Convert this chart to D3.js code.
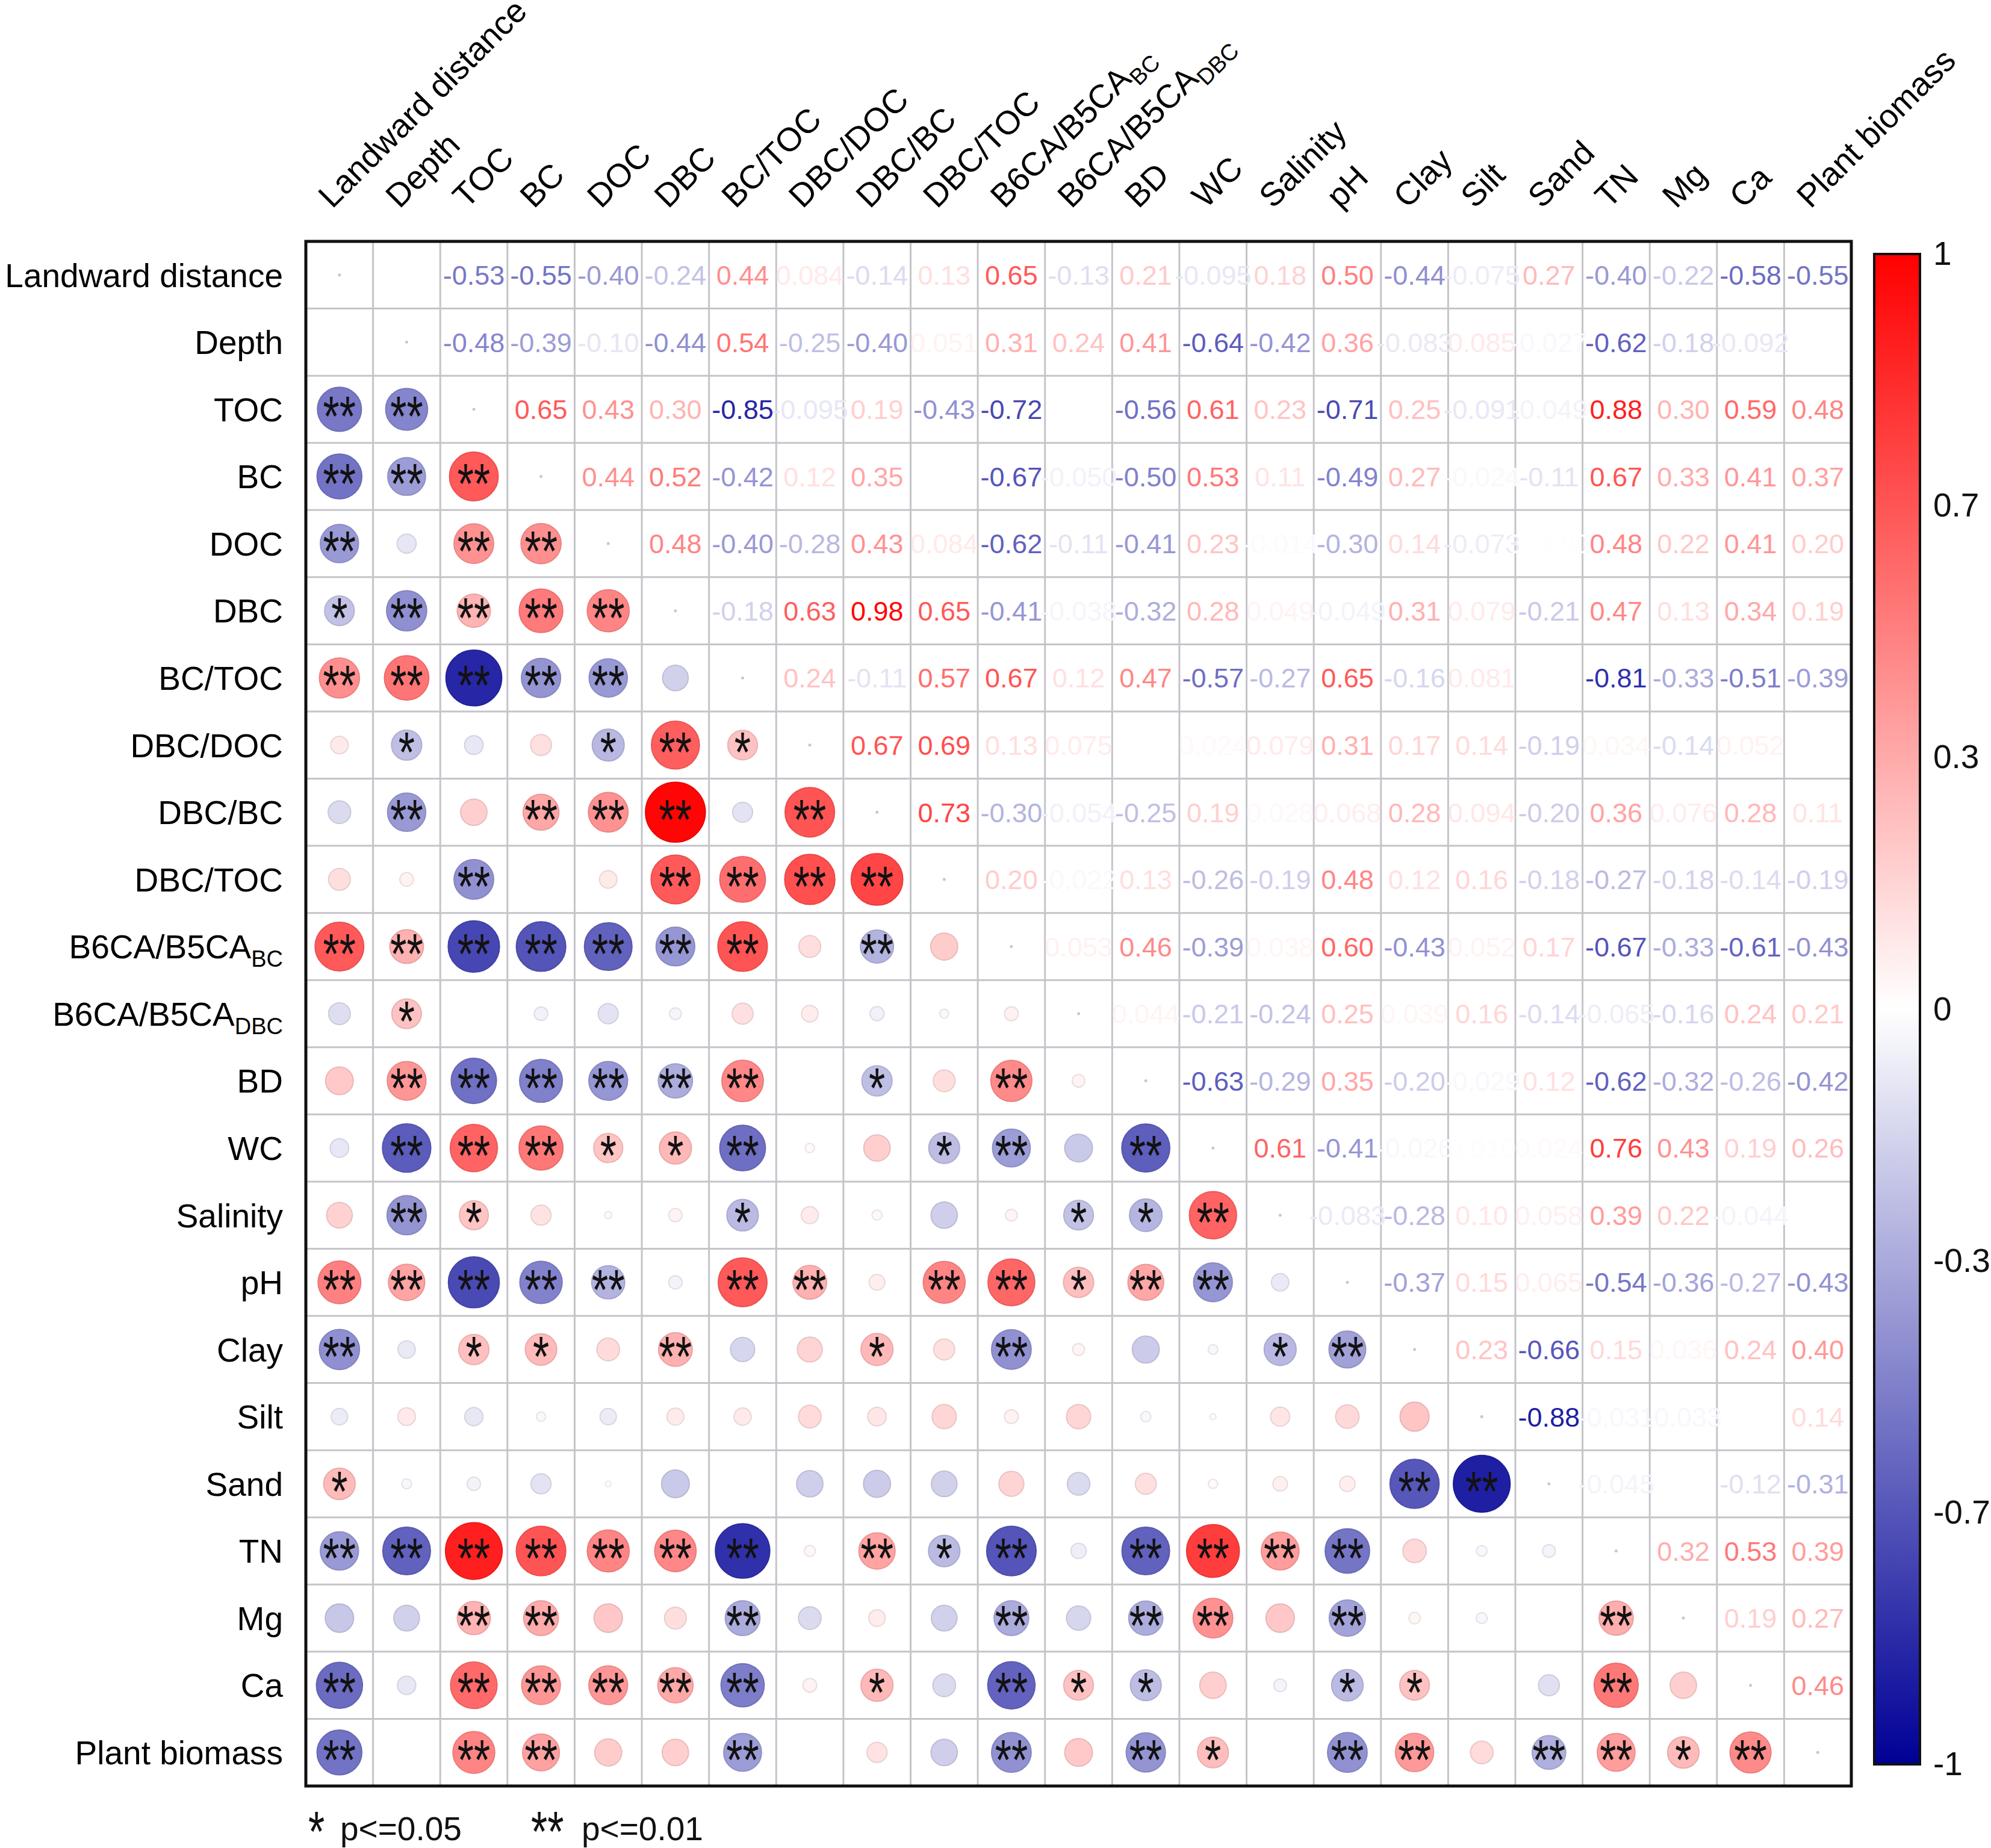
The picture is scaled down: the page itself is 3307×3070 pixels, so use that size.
<!DOCTYPE html>
<html>
<head>
<meta charset="utf-8">
<script src="https://cdnjs.cloudflare.com/ajax/libs/d3/7.8.5/d3.min.js"></script>
<style>
    body { margin: 0; background: #ffffff; }
    text { font-family: "Liberation Sans", Arial, sans-serif; }
</style>
</head>
<body>
<div id="corr-chart"></div>
<script>

// variables, same order for rows and columns
var varNames = ["Landward distance", "Depth", "TOC", "BC", "DOC", "DBC", "BC/TOC", "DBC/DOC",
    "DBC/BC", "DBC/TOC", "B6CA/B5CA", "B6CA/B5CA", "BD", "WC", "Salinity", "pH", "Clay", "Silt",
    "Sand", "TN", "Mg", "Ca", "Plant biomass"];
var varSubs = ["", "", "", "", "", "", "", "", "", "", "BC", "DBC", "", "", "", "", "", "", "", "", "", "", ""];

// upper triangle, row i holds the columns i+1 .. 22
var corrUpper = [
    [0, -0.53, -0.55, -0.40, -0.24, 0.44, 0.084, -0.14, 0.13, 0.65, -0.13, 0.21, -0.095, 0.18, 0.50, -0.44, -0.075, 0.27, -0.40, -0.22, -0.58, -0.55],
    [-0.48, -0.39, -0.10, -0.44, 0.54, -0.25, -0.40, 0.051, 0.31, 0.24, 0.41, -0.64, -0.42, 0.36, -0.083, 0.085, -0.027, -0.62, -0.18, -0.092, 0],
    [0.65, 0.43, 0.30, -0.85, -0.095, 0.19, -0.43, -0.72, 0, -0.56, 0.61, 0.23, -0.71, 0.25, -0.091, -0.049, 0.88, 0.30, 0.59, 0.48],
    [0.44, 0.52, -0.42, 0.12, 0.35, 0, -0.67, -0.050, -0.50, 0.53, 0.11, -0.49, 0.27, -0.024, -0.11, 0.67, 0.33, 0.41, 0.37],
    [0.48, -0.40, -0.28, 0.43, 0.084, -0.62, -0.11, -0.41, 0.23, -0.014, -0.30, 0.14, -0.073, 0.009, 0.48, 0.22, 0.41, 0.20],
    [-0.18, 0.63, 0.98, 0.65, -0.41, -0.038, -0.32, 0.28, 0.049, -0.049, 0.31, 0.079, -0.21, 0.47, 0.13, 0.34, 0.19],
    [0.24, -0.11, 0.57, 0.67, 0.12, 0.47, -0.57, -0.27, 0.65, -0.16, 0.081, 0, -0.81, -0.33, -0.51, -0.39],
    [0.67, 0.69, 0.13, 0.075, 0, 0.024, 0.079, 0.31, 0.17, 0.14, -0.19, 0.034, -0.14, 0.052, 0],
    [0.73, -0.30, -0.054, -0.25, 0.19, 0.028, 0.068, 0.28, 0.094, -0.20, 0.36, 0.076, 0.28, 0.11],
    [0.20, -0.022, 0.13, -0.26, -0.19, 0.48, 0.12, 0.16, -0.18, -0.27, -0.18, -0.14, -0.19],
    [0.053, 0.46, -0.39, 0.038, 0.60, -0.43, 0.052, 0.17, -0.67, -0.33, -0.61, -0.43],
    [0.044, -0.21, -0.24, 0.25, 0.039, 0.16, -0.14, -0.065, -0.16, 0.24, 0.21],
    [-0.63, -0.29, 0.35, -0.20, -0.029, 0.12, -0.62, -0.32, -0.26, -0.42],
    [0.61, -0.41, -0.026, 0.010, 0.024, 0.76, 0.43, 0.19, 0.26],
    [-0.083, -0.28, 0.10, 0.058, 0.39, 0.22, -0.044, 0],
    [-0.37, 0.15, 0.065, -0.54, -0.36, -0.27, -0.43],
    [0.23, -0.66, 0.15, 0.036, 0.24, 0.40],
    [-0.88, -0.031, -0.033, 0, 0.14],
    [-0.045, 0, -0.12, -0.31],
    [0.32, 0.53, 0.39],
    [0.19, 0.27],
    [0.46]
];

// lower triangle significance, row i (from 1) holds columns 0 .. i-1
// 0 = none, 1 = p<=0.05, 2 = p<=0.01
var sigLower = [
    "0",
    "22",
    "222",
    "2022",
    "12222",
    "222220",
    "0100121",
    "02022202",
    "002002222",
    "2222222020",
    "01000000000",
    "022222201020",
    "0222112001202",
    "02100010000112",
    "222220220221220",
    "2011020010200012",
    "00000000000000000",
    "100000000000000022",
    "2222222021202222000",
    "00220020002022020002",
    "202222201021100110020",
    "2022002000202102202212"
];

var colorTicks = [1, 2/3, 1/3, 0, -1/3, -2/3, -1];
var colorTickLabels = ["1", "0.7", "0.3", "0", "-0.3", "-0.7", "-1"];
var legendStars = ["*", "**"];
var legendLabels = ["p<=0.05", "p<=0.01"];


/*
 * CorrVis - Object constructor function
 */
CorrVis = function(_parentElement){
    this.parentElement = _parentElement;
    this.initVis();
}

CorrVis.prototype.initVis = function(){
    var vis = this;

    vis.width = 3307;
    vis.height = 3070;
    vis.left = 508;
    vis.right = 3075;
    vis.top = 401;
    vis.bottom = 2967;

    vis.svg = d3.select("#" + vis.parentElement).append("svg")
        .attr("width", vis.width)
        .attr("height", vis.height);

    vis.n = varNames.length;

    // Scales
    vis.x = d3.scaleBand()
        .domain(d3.range(vis.n))
        .range([vis.left, vis.right]);

    vis.y = d3.scaleBand()
        .domain(d3.range(vis.n))
        .range([vis.top, vis.bottom]);

    vis.color = d3.scaleLinear()
        .domain([-1, 0, 1])
        .range(["#000096", "#ffffff", "#ff0000"]);

    vis.wrangleData();
}

CorrVis.prototype.wrangleData = function(){
    var vis = this;

    vis.cells = [];
    for (var i = 0; i < vis.n; i++) {
        for (var j = 0; j < vis.n; j++) {
            var r = null, sig = 0;
            if (j > i) r = corrUpper[i][j - i - 1];
            if (j < i) {
                r = corrUpper[j][i - j - 1];
                sig = +sigLower[i - 1][j];
            }
            vis.cells.push({row: i, col: j, r: r, sig: sig});
        }
    }

    vis.updateVis();
}

CorrVis.prototype.updateVis = function(){
    var vis = this;
    var bw = vis.x.bandwidth();

    function fmt(r){
        if (Math.abs(r) >= 0.1) return r.toFixed(2);
        return r.toPrecision(2);
    }

    // grid lines
    var edges = d3.range(1, vis.n);
    vis.svg.selectAll(".vgrid")
        .data(edges)
        .enter().append("line")
        .attr("x1", d => vis.x(d)).attr("x2", d => vis.x(d))
        .attr("y1", vis.top).attr("y2", vis.bottom)
        .attr("stroke", "#c4c4ca").attr("stroke-width", 3);
    vis.svg.selectAll(".hgrid")
        .data(edges)
        .enter().append("line")
        .attr("y1", d => vis.y(d)).attr("y2", d => vis.y(d))
        .attr("x1", vis.left).attr("x2", vis.right)
        .attr("stroke", "#c4c4ca").attr("stroke-width", 3);

    // diagonal dots
    vis.svg.selectAll(".diag")
        .data(vis.cells.filter(d => d.row == d.col))
        .enter().append("circle")
        .attr("cx", d => vis.x(d.col) + bw/2)
        .attr("cy", d => vis.y(d.row) + bw/2)
        .attr("r", 2.5)
        .attr("fill", "#c8c8c8");

    // lower triangle: circles, area ~ |r|
    var lower = vis.cells.filter(d => d.col < d.row && d.r != 0);
    vis.svg.selectAll(".circ")
        .data(lower)
        .enter().append("circle")
        .attr("class", "circ")
        .attr("cx", d => vis.x(d.col) + bw/2)
        .attr("cy", d => vis.y(d.row) + bw/2)
        .attr("r", d => 0.45 * bw * Math.sqrt(Math.abs(d.r)))
        .attr("fill", d => vis.color(d.r))
        .attr("stroke", d => d3.color(vis.color(d.r)).darker(0.25))
        .attr("stroke-width", 2);

    vis.svg.selectAll(".stars")
        .data(lower.filter(d => d.sig > 0))
        .enter().append("text")
        .attr("transform", d => "translate(" + (vis.x(d.col) + bw/2) + "," + (vis.y(d.row) + bw/2) + ") scale(1,1.35)")
        .attr("y", 33)
        .attr("text-anchor", "middle")
        .attr("font-size", 70)
        .attr("fill", "#111")
        .text(d => d.sig == 2 ? "**" : "*");

    // upper triangle: coefficients
    vis.svg.selectAll(".num")
        .data(vis.cells.filter(d => d.col > d.row && d.r != 0))
        .enter().append("text")
        .attr("x", d => vis.x(d.col) + bw/2)
        .attr("y", d => vis.y(d.row) + bw/2)
        .attr("dy", "0.36em")
        .attr("text-anchor", "middle")
        .attr("font-size", 45)
        .attr("fill", d => vis.color(d.r))
        .text(d => fmt(d.r));

    // outer frame
    vis.svg.append("rect")
        .attr("x", vis.left).attr("y", vis.top)
        .attr("width", vis.right - vis.left).attr("height", vis.bottom - vis.top)
        .attr("fill", "none").attr("stroke", "#111").attr("stroke-width", 5);

    // row labels
    var rowLab = vis.svg.selectAll(".row-label")
        .data(varNames)
        .enter().append("text")
        .attr("x", vis.left - 38)
        .attr("y", (d, i) => vis.y(i) + bw/2)
        .attr("dy", "0.36em")
        .attr("text-anchor", "end")
        .attr("font-size", 55);
    rowLab.append("tspan").text(d => d);
    rowLab.append("tspan")
        .attr("font-size", 38).attr("dy", 14)
        .text((d, i) => varSubs[i]);

    // column labels, rotated
    var colLab = vis.svg.selectAll(".col-label")
        .data(varNames)
        .enter().append("text")
        .attr("transform", (d, i) => "translate(" + (vis.x(i) + bw/2 - 12) + "," + (vis.top - 53) + ") rotate(-45)")
        .attr("font-size", 55);
    colLab.append("tspan").text(d => d);
    colLab.append("tspan")
        .attr("font-size", 38).attr("dy", 14)
        .text((d, i) => varSubs[i]);

    // colour bar
    var barX = 3113, barW = 76, barTop = 422, barBottom = 2931;
    var grad = vis.svg.append("defs").append("linearGradient")
        .attr("id", "cbar").attr("x1", 0).attr("y1", 0).attr("x2", 0).attr("y2", 1);
    grad.selectAll("stop")
        .data([1, 0, -1])
        .enter().append("stop")
        .attr("offset", (d, i) => i * 50 + "%")
        .attr("stop-color", d => vis.color(d));
    vis.svg.append("rect")
        .attr("x", barX).attr("y", barTop)
        .attr("width", barW).attr("height", barBottom - barTop)
        .attr("fill", "url(#cbar)")
        .attr("stroke", "#111").attr("stroke-width", 4);

    var cScale = d3.scaleLinear().domain([-1, 1]).range([barBottom, barTop]);
    var cAxis = d3.axisRight(cScale)
        .tickValues(colorTicks)
        .tickSize(0)
        .tickPadding(22)
        .tickFormat((d, i) => colorTickLabels[i]);
    var cg = vis.svg.append("g")
        .attr("transform", "translate(" + (barX + barW) + ",0)")
        .call(cAxis);
    cg.select(".domain").remove();
    cg.selectAll("text")
        .attr("font-size", 55)
        .attr("font-family", "'Liberation Sans', Arial, sans-serif")
        .attr("fill", "#111");

    // significance legend
    var legX = [512, 882], labX = [565, 966];
    var leg = vis.svg.selectAll(".leg")
        .data(legendLabels)
        .enter().append("g");
    leg.append("text")
        .attr("transform", (d, i) => "translate(" + legX[i] + ",3030) scale(1,1.35)")
        .attr("y", 33)
        .attr("font-size", 70)
        .attr("fill", "#111")
        .text((d, i) => legendStars[i]);
    leg.append("text")
        .attr("x", (d, i) => labX[i])
        .attr("y", 3037)
        .attr("dy", "0.36em")
        .attr("font-size", 55)
        .attr("fill", "#111")
        .text(d => d);
}

var corrVis = new CorrVis("corr-chart");

</script>
</body>
</html>
